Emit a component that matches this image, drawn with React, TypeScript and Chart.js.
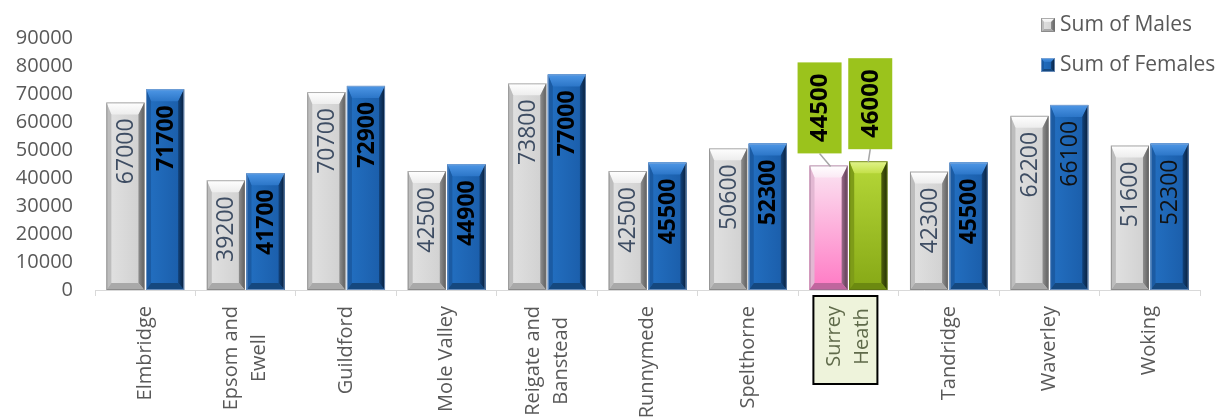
import React, { useEffect, useRef } from 'react';
import { Chart, registerables } from 'chart.js';

Chart.register(...registerables);

// ---------- data ----------
const categories: string[] = [
  'Elmbridge', 'Epsom and Ewell', 'Guildford', 'Mole Valley', 'Reigate and Banstead',
  'Runnymede', 'Spelthorne', 'Surrey Heath', 'Tandridge', 'Waverley', 'Woking',
];
const tickLabels: string[][] = [
  ['Elmbridge'], ['Epsom and', 'Ewell'], ['Guildford'], ['Mole Valley'], ['Reigate and', 'Banstead'],
  ['Runnymede'], ['Spelthorne'], ['Surrey', 'Heath'], ['Tandridge'], ['Waverley'], ['Woking'],
];
const males: number[] = [67000, 39200, 70700, 42500, 73800, 42500, 50600, 44500, 42300, 62200, 51600];
const females: number[] = [71700, 41700, 72900, 44900, 77000, 45500, 52300, 46000, 45500, 66100, 52300];
const yTicks: number[] = [0, 10000, 20000, 30000, 40000, 50000, 60000, 70000, 80000, 90000];
const seriesNames: string[] = ['Sum of Males', 'Sum of Females'];
const highlighted = 'Surrey Heath';
const regularFemaleLabels = ['Waverley', 'Woking'];

// ---------- styles ----------
const FONT = '"Open Sans", "Noto Sans", sans-serif';
const TEXT = '#595959';

type Pal = {
  top: [string, string];
  face: [string, string];
  faceDir: 'h' | 'v';
  left: string;
  right: [string, string];
  bottom: string;
  stroke: string;
};

const GRAY: Pal = {
  top: ['#FFFFFF', '#EDEDED'],
  face: ['#E2E2E2', '#CFCFCF'],
  faceDir: 'h',
  left: '#BDBDBD',
  right: ['#8E8E8E', '#5E5E5E'],
  bottom: '#A9A9A9',
  stroke: 'rgba(120,120,120,0.6)',
};
const BLUE: Pal = {
  top: ['#4E97E6', '#2C76C8'],
  face: ['#2370C2', '#1A5CA8'],
  faceDir: 'h',
  left: '#1B5BA3',
  right: ['#12427A', '#071E3A'],
  bottom: '#15487F',
  stroke: 'rgba(140,170,210,0.7)',
};
const PINK: Pal = {
  top: ['#FFFFFF', '#FBEAF5'],
  face: ['#FBE6F3', '#FF79C4'],
  faceDir: 'v',
  left: '#E3B8D3',
  right: ['#9A6A8A', '#5A3A50'],
  bottom: '#C0669E',
  stroke: 'rgba(150,110,140,0.7)',
};
const GREEN: Pal = {
  top: ['#E2F48C', '#C4E04A'],
  face: ['#B6D838', '#86A816'],
  faceDir: 'v',
  left: '#7E9C18',
  right: ['#4E600C', '#243004'],
  bottom: '#6C8A10',
  stroke: 'rgba(90,110,20,0.7)',
};

function poly(ctx: CanvasRenderingContext2D, pts: number[][], fill: string | CanvasGradient) {
  ctx.beginPath();
  ctx.moveTo(pts[0][0], pts[0][1]);
  for (let i = 1; i < pts.length; i++) ctx.lineTo(pts[i][0], pts[i][1]);
  ctx.closePath();
  ctx.fillStyle = fill;
  ctx.fill();
}

function bevel(
  ctx: CanvasRenderingContext2D, l: number, t: number, r: number, b: number, p: Pal,
  s: { t: number; l: number; r: number; b: number },
) {
  const h = b - t;
  const bt = Math.min(s.t, h / 2);
  const bb = Math.min(s.b, h / 3);
  const bl = s.l;
  const br = s.r;
  ctx.save();
  const g = p.faceDir === 'h' ? ctx.createLinearGradient(l, 0, r, 0) : ctx.createLinearGradient(0, t, 0, b);
  g.addColorStop(0, p.face[0]);
  g.addColorStop(1, p.face[1]);
  ctx.fillStyle = g;
  ctx.fillRect(l, t, r - l, b - t);
  const gt = ctx.createLinearGradient(0, t, 0, t + bt);
  gt.addColorStop(0, p.top[0]);
  gt.addColorStop(1, p.top[1]);
  poly(ctx, [[l, t], [r, t], [r - br, t + bt], [l + bl, t + bt]], gt);
  poly(ctx, [[l, t], [l + bl, t + bt], [l + bl, b - bb], [l, b]], p.left);
  const gr = ctx.createLinearGradient(r - br, 0, r, 0);
  gr.addColorStop(0, p.right[0]);
  gr.addColorStop(1, p.right[1]);
  poly(ctx, [[r, t], [r, b], [r - br, b - bb], [r - br, t + bt]], gr);
  poly(ctx, [[l, b], [l + bl, b - bb], [r - br, b - bb], [r, b]], p.bottom);
  ctx.strokeStyle = p.stroke;
  ctx.lineWidth = 1;
  ctx.strokeRect(l + 0.5, t + 0.5, r - l - 1, b - t - 1);
  ctx.restore();
}

const barBevel = { t: 12, l: 5, r: 6, b: 7 };
const iconBevel = { t: 4, l: 3, r: 4, b: 3 };

const decorPlugin = {
  id: 'decor',
  beforeDraw(chart: any) {
    // highlight box behind the Surrey Heath axis label
    const ctx: CanvasRenderingContext2D = chart.ctx;
    const xs = chart.scales.x;
    const i = categories.indexOf(highlighted);
    const cx = xs.getPixelForValue(i);
    const top = xs.top + 6;
    ctx.save();
    ctx.fillStyle = '#EEF3DB';
    ctx.strokeStyle = '#000000';
    ctx.lineWidth = 2;
    ctx.fillRect(cx - 35, top, 64, 88);
    ctx.strokeRect(cx - 35, top, 64, 88);
    ctx.restore();
  },
  afterDatasetsDraw(chart: any) {
    const ctx: CanvasRenderingContext2D = chart.ctx;
    chart.data.datasets.forEach((ds: any, di: number) => {
      const meta = chart.getDatasetMeta(di);
      meta.data.forEach((el: any, i: number) => {
        const { x, y, base, width } = el.getProps(['x', 'y', 'base', 'width'], true);
        const isHi = categories[i] === highlighted;
        const pal = isHi ? (di === 0 ? PINK : GREEN) : di === 0 ? GRAY : BLUE;
        bevel(ctx, x - width / 2, y, x + width / 2, base, pal, barBevel);
        const text = String(ds.data[i]);
        ctx.save();
        if (isHi) {
          const bcx = x + (di === 0 ? -9 : 2);
          const boxB = y - 12;
          const boxH = 91;
          const boxW = 44;
          ctx.strokeStyle = '#A6A6A6';
          ctx.lineWidth = 1.5;
          ctx.beginPath();
          ctx.moveTo(bcx, boxB);
          ctx.lineTo(x + (di === 0 ? 2 : 0), y + 1);
          ctx.stroke();
          ctx.fillStyle = '#9BC31C';
          ctx.fillRect(bcx - boxW / 2, boxB - boxH, boxW, boxH);
          ctx.translate(bcx + 1, boxB - boxH / 2);
          ctx.rotate(-Math.PI / 2);
          ctx.textAlign = 'center';
          ctx.textBaseline = 'middle';
          ctx.font = `bold 24px ${FONT}`;
          ctx.fillStyle = '#000000';
          ctx.fillText(text, 0, 0);
        } else {
          ctx.translate(x + 1, y + 16);
          ctx.rotate(-Math.PI / 2);
          ctx.textAlign = 'right';
          ctx.textBaseline = 'middle';
          if (di === 0) {
            ctx.font = `23px ${FONT}`;
            ctx.fillStyle = '#3E4D63';
          } else if (regularFemaleLabels.includes(categories[i])) {
            ctx.font = `23px ${FONT}`;
            ctx.fillStyle = '#111111';
          } else {
            ctx.font = `bold 23px ${FONT}`;
            ctx.fillStyle = '#000000';
          }
          ctx.fillText(text, 0, 0);
        }
        ctx.restore();
      });
    });
  },
  afterDraw(chart: any) {
    const ctx: CanvasRenderingContext2D = chart.ctx;
    const xs = chart.scales.x;
    const LH = 28;
    // category axis labels, rotated; lines centred within the block, block anchored at the top
    (chart.data.labels as string[][]).forEach((lines, i) => {
      const cx = xs.getPixelForValue(i);
      const n = lines.length;
      ctx.save();
      ctx.font = `20px ${FONT}`;
      const maxW = Math.max(...lines.map((t) => ctx.measureText(t).width));
      ctx.restore();
      lines.forEach((line, k) => {
        ctx.save();
        ctx.translate(cx + (k - (n - 1) / 2) * LH, xs.top + 16 + maxW / 2);
        ctx.rotate(-Math.PI / 2);
        ctx.textAlign = 'center';
        ctx.textBaseline = 'middle';
        ctx.font = `20px ${FONT}`;
        ctx.fillStyle = categories[i] === highlighted ? '#5F6A4A' : TEXT;
        ctx.fillText(line, 0, 0);
        ctx.restore();
      });
    });
    // legend
    const lx = 1041;
    const rows = [18, 58];
    chart.data.datasets.forEach((ds: any, di: number) => {
      const ty = rows[di];
      bevel(ctx, lx, ty, lx + 14, ty + 14, di === 0 ? GRAY : BLUE, iconBevel);
      ctx.save();
      ctx.font = `21px ${FONT}`;
      ctx.fillStyle = TEXT;
      ctx.textAlign = 'left';
      ctx.textBaseline = 'middle';
      ctx.fillText(ds.label, lx + 19, ty + 7);
      ctx.restore();
    });
  },
};

export default function App() {
  const ref = useRef<HTMLCanvasElement | null>(null);

  useEffect(() => {
    document.body.style.margin = '0';
    let chart: Chart | null = null;
    let cancelled = false;
    const make = () => {
      if (cancelled || !ref.current) return;
      chart = new Chart(ref.current, {
        type: 'bar',
        data: {
          labels: tickLabels as any,
          datasets: [
            {
              label: seriesNames[0],
              data: males,
              backgroundColor: (c: any) => (categories[c.dataIndex] === highlighted ? '#FF79C4' : '#D9D9D9'),
              categoryPercentage: 0.79,
              barPercentage: 0.96,
            },
            {
              label: seriesNames[1],
              data: females,
              backgroundColor: (c: any) => (categories[c.dataIndex] === highlighted ? '#9BC31C' : '#1F66B8'),
              categoryPercentage: 0.79,
              barPercentage: 0.96,
            },
          ],
        },
        options: {
          animation: false,
          responsive: false,
          events: [],
          layout: { padding: { top: 38, right: 16, left: 0, bottom: 0 } },
          plugins: { legend: { display: false }, tooltip: { enabled: false } },
          scales: {
            x: {
              offset: true,
              grid: {
                display: true,
                drawOnChartArea: false,
                drawTicks: true,
                tickLength: 6,
                color: '#D9D9D9',
                offset: true,
              },
              border: { display: true, color: '#D9D9D9' },
              ticks: { display: false },
              afterFit: (s: any) => {
                s.height = 129;
              },
            },
            y: {
              min: 0,
              max: 90000,
              afterBuildTicks: (s: any) => {
                s.ticks = yTicks.map((v) => ({ value: v }));
              },
              grid: { display: false, drawTicks: false },
              border: { display: false },
              ticks: {
                color: TEXT,
                font: { family: FONT, size: 20 },
                padding: 22,
                autoSkip: false,
                callback: (v: any) => String(v),
              },
              afterFit: (s: any) => {
                s.width = 95;
              },
            },
          },
        },
        plugins: [decorPlugin],
      } as any);
    };
    const fonts: any = (document as any).fonts;
    if (fonts && fonts.load) {
      Promise.all([
        fonts.load(`20px ${FONT}`),
        fonts.load(`bold 23px ${FONT}`),
      ]).then(make, make);
    } else {
      make();
    }
    return () => {
      cancelled = true;
      if (chart) chart.destroy();
    };
  }, []);

  return (
    <div style={{ width: 1216, height: 419 }}>
      <canvas ref={ref} width={1216} height={419} style={{ display: 'block' }} />
    </div>
  );
}
